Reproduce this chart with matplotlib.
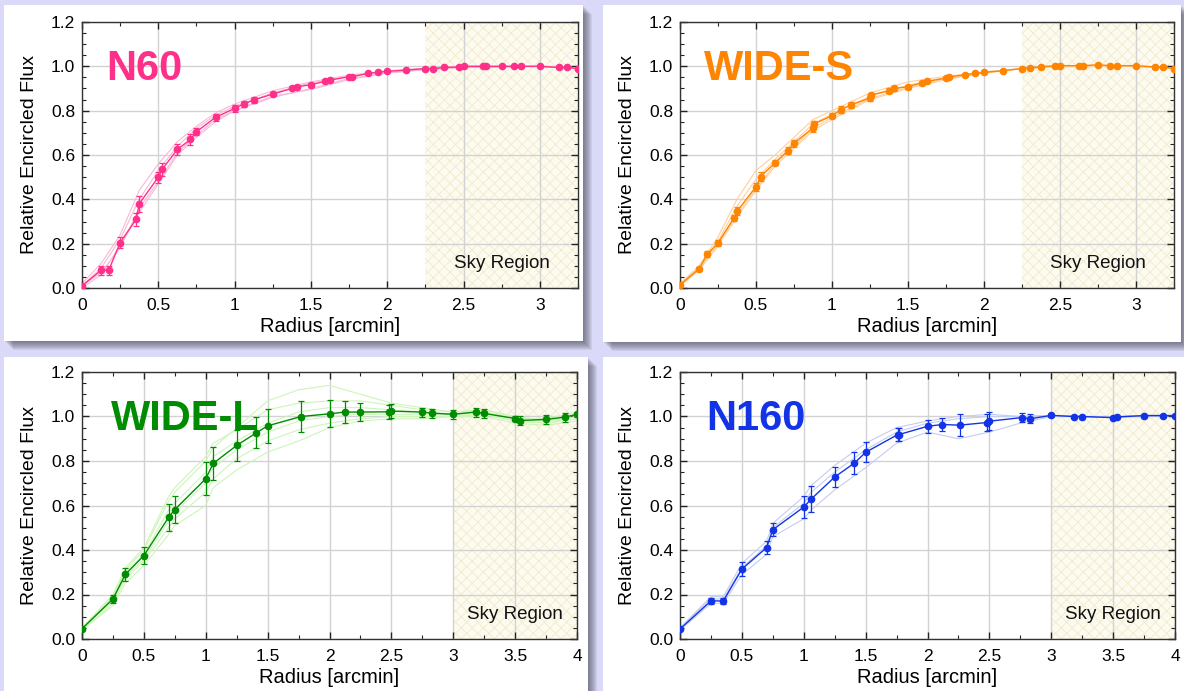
import matplotlib
matplotlib.use("Agg")
import matplotlib.pyplot as plt
from matplotlib.patches import Rectangle
from matplotlib.ticker import MultipleLocator, FormatStrFormatter, FuncFormatter

plt.rcParams["font.family"] = ["Liberation Sans", "DejaVu Sans"]
plt.rcParams["hatch.linewidth"] = 0.6

# ---- N60 ----
n60_x = [0, 0.125, 0.175, 0.25, 0.355, 0.375, 0.5, 0.525, 0.625, 0.71, 0.75, 0.875, 1.0, 1.06,
         1.125, 1.25, 1.375, 1.41, 1.5, 1.59, 1.625, 1.75, 1.77, 1.875, 1.94, 2.0, 2.125, 2.25,
         2.3, 2.375, 2.47, 2.5, 2.625, 2.65, 2.75, 2.83, 2.875, 3.0, 3.125, 3.18, 3.25]
n60_y = [0.01, 0.08, 0.08, 0.205, 0.31, 0.38, 0.50, 0.535, 0.625, 0.67, 0.705, 0.77, 0.81, 0.83,
         0.848, 0.875, 0.90, 0.908, 0.917, 0.932, 0.938, 0.953, 0.953, 0.968, 0.973, 0.977, 0.983, 0.99,
         0.99, 0.995, 0.997, 1.0, 1.0, 1.0, 1.0, 1.0, 1.0, 1.0, 0.995, 0.995, 0.99]
n60_err = [0.005, 0.02, 0.02, 0.025, 0.03, 0.035, 0.025, 0.03, 0.025, 0.025, 0.015, 0.015, 0.015, 0.012,
           0.012, 0.01, 0.008, 0.008, 0.008, 0.006, 0.006, 0.005, 0.005, 0.004, 0.004, 0.004, 0.004, 0.003,
           0.003, 0.003, 0.003, 0.003, 0.003, 0.003, 0.003, 0.003, 0.003, 0.003, 0.003, 0.003, 0.003]

# ---- WIDE-S ----
ws_x = [0, 0.125, 0.18, 0.25, 0.355, 0.375, 0.5, 0.53, 0.625, 0.71, 0.75, 0.875, 0.88, 1.0, 1.06,
        1.125, 1.25, 1.255, 1.375, 1.41, 1.5, 1.59, 1.625, 1.75, 1.77, 1.875, 1.94, 2.0, 2.125, 2.25,
        2.3, 2.375, 2.47, 2.5, 2.625, 2.65, 2.75, 2.83, 2.875, 3.0, 3.125, 3.18, 3.25]
ws_y = [0.014, 0.086, 0.153, 0.203, 0.316, 0.346, 0.457, 0.502, 0.565, 0.62, 0.653, 0.722, 0.74, 0.777, 0.805,
        0.826, 0.857, 0.871, 0.89, 0.90, 0.908, 0.926, 0.932, 0.947, 0.952, 0.962, 0.968, 0.973, 0.98, 0.99,
        0.993, 0.998, 1.003, 1.003, 1.003, 1.003, 1.007, 1.003, 1.003, 1.003, 0.997, 0.996, 0.99]
ws_err = [0.004, 0.008, 0.012, 0.015, 0.015, 0.018, 0.018, 0.02, 0.012, 0.015, 0.015, 0.018, 0.015, 0.012, 0.015,
          0.012, 0.012, 0.01, 0.012, 0.012, 0.01, 0.008, 0.008, 0.006, 0.006, 0.005, 0.005, 0.004, 0.004, 0.003,
          0.003, 0.003, 0.003, 0.003, 0.003, 0.003, 0.003, 0.003, 0.003, 0.003, 0.003, 0.003, 0.003]

# individual-galaxy curves for the top row (thin light lines)
top_gx = [0, 0.125, 0.25, 0.375, 0.5, 0.625, 0.75, 0.875, 1.0, 1.25, 1.5, 1.75, 2.0, 2.25, 2.5, 3.0, 3.25]
n60_g1 = [0.02, 0.11, 0.24, 0.44, 0.56, 0.66, 0.73, 0.79, 0.83, 0.89, 0.93, 0.96, 0.98, 0.99, 1.0, 1.0, 0.99]
n60_g2 = [0.00, 0.06, 0.19, 0.34, 0.47, 0.60, 0.68, 0.75, 0.80, 0.86, 0.90, 0.945, 0.97, 0.985, 0.995, 1.0, 0.99]
n60_g3 = [0.01, 0.09, 0.22, 0.40, 0.53, 0.64, 0.72, 0.78, 0.82, 0.88, 0.925, 0.955, 0.98, 0.99, 1.0, 1.0, 0.99]
n60_g4 = [0.01, 0.07, 0.18, 0.36, 0.48, 0.61, 0.69, 0.76, 0.80, 0.865, 0.895, 0.94, 0.97, 0.985, 0.995, 1.0, 0.99]
ws_g1 = [0.02, 0.10, 0.23, 0.40, 0.53, 0.60, 0.68, 0.76, 0.80, 0.88, 0.93, 0.955, 0.975, 0.99, 1.0, 1.0, 0.99]
ws_g2 = [0.01, 0.08, 0.19, 0.32, 0.44, 0.55, 0.63, 0.71, 0.76, 0.85, 0.90, 0.94, 0.97, 0.99, 1.0, 1.0, 0.99]
ws_g3 = [0.02, 0.09, 0.21, 0.37, 0.49, 0.58, 0.66, 0.74, 0.785, 0.865, 0.915, 0.95, 0.975, 0.99, 1.0, 1.0, 0.99]
ws_g4 = [0.01, 0.085, 0.20, 0.33, 0.45, 0.56, 0.64, 0.72, 0.77, 0.855, 0.905, 0.945, 0.97, 0.99, 1.0, 1.0, 0.99]

# ---- WIDE-L ----
wl_x = [0, 0.25, 0.35, 0.5, 0.7, 0.75, 1.0, 1.06, 1.25, 1.41, 1.5, 1.77, 2.0, 2.125, 2.25, 2.48, 2.5,
        2.75, 2.83, 3.0, 3.18, 3.25, 3.5, 3.54, 3.75, 3.9, 4.0]
wl_y = [0.046, 0.18, 0.29, 0.375, 0.547, 0.582, 0.72, 0.789, 0.87, 0.927, 0.958, 1.0, 1.012, 1.02, 1.02, 1.021, 1.024,
        1.02, 1.015, 1.01, 1.02, 1.014, 0.991, 0.982, 0.987, 0.997, 1.01]
wl_err = [0.005, 0.02, 0.03, 0.04, 0.06, 0.06, 0.075, 0.075, 0.07, 0.07, 0.075, 0.07, 0.06, 0.05, 0.04, 0.03, 0.03,
          0.02, 0.02, 0.02, 0.02, 0.02, 0.01, 0.02, 0.02, 0.02, 0.01]

# ---- N160 ----
nb_x = [0, 0.25, 0.35, 0.5, 0.7, 0.75, 1.0, 1.06, 1.25, 1.41, 1.5, 1.76, 1.77, 2.0, 2.12, 2.26, 2.48, 2.5,
        2.76, 2.83, 3.0, 3.18, 3.25, 3.5, 3.53, 3.75, 3.9, 4.0]
nb_y = [0.045, 0.171, 0.171, 0.314, 0.411, 0.491, 0.593, 0.629, 0.728, 0.791, 0.839, 0.919, 0.919, 0.956, 0.964,
        0.961, 0.973, 0.979, 0.995, 0.99, 1.005, 1.0, 1.0, 0.995, 0.998, 1.004, 1.004, 1.004]
nb_err = [0.004, 0.015, 0.015, 0.03, 0.03, 0.03, 0.05, 0.06, 0.045, 0.05, 0.045, 0.03, 0.03, 0.03, 0.03,
          0.05, 0.04, 0.04, 0.02, 0.02, 0.005, 0.004, 0.004, 0.004, 0.004, 0.004, 0.004, 0.004]

# individual-galaxy curves for the bottom row
bot_gx = [0, 0.25, 0.35, 0.5, 0.7, 0.75, 1.0, 1.06, 1.25, 1.5, 1.75, 2.0, 2.25, 2.5, 2.75, 3.0, 3.25, 3.5, 3.75, 4.0]
wl_g1 = [0.05, 0.19, 0.31, 0.40, 0.62, 0.66, 0.80, 0.86, 0.95, 1.07, 1.12, 1.14, 1.10, 1.06, 1.04, 1.02, 1.03, 1.00, 0.98, 1.00]
wl_g2 = [0.05, 0.20, 0.32, 0.41, 0.64, 0.68, 0.82, 0.88, 0.94, 1.03, 1.06, 1.07, 1.07, 1.05, 1.03, 1.02, 1.03, 0.99, 0.99, 1.02]
wl_g3 = [0.04, 0.16, 0.27, 0.35, 0.50, 0.54, 0.66, 0.72, 0.81, 0.89, 0.94, 0.97, 0.99, 1.00, 1.00, 1.00, 1.01, 0.98, 0.97, 0.99]
wl_g4 = [0.04, 0.15, 0.25, 0.33, 0.47, 0.51, 0.60, 0.68, 0.76, 0.84, 0.89, 0.95, 0.98, 0.99, 0.99, 1.00, 1.00, 0.97, 0.96, 0.98]
wl_g5 = [0.05, 0.18, 0.30, 0.38, 0.58, 0.61, 0.75, 0.82, 0.89, 0.97, 1.02, 1.04, 1.04, 1.03, 1.02, 1.01, 1.02, 0.99, 0.98, 1.01]
wl_g6 = [0.05, 0.17, 0.28, 0.36, 0.53, 0.57, 0.70, 0.77, 0.85, 0.93, 0.98, 1.00, 1.01, 1.01, 1.01, 1.01, 1.01, 0.98, 0.97, 1.00]
nb_g1 = [0.05, 0.19, 0.19, 0.34, 0.44, 0.52, 0.64, 0.69, 0.78, 0.88, 0.95, 0.98, 1.00, 1.01, 1.00, 1.005, 1.0, 1.0, 1.005, 1.005]
nb_g2 = [0.04, 0.16, 0.16, 0.29, 0.38, 0.46, 0.54, 0.58, 0.67, 0.77, 0.88, 0.93, 0.90, 0.93, 0.97, 1.00, 1.0, 0.995, 1.0, 1.005]
nb_g3 = [0.05, 0.18, 0.18, 0.32, 0.42, 0.50, 0.61, 0.66, 0.75, 0.85, 0.93, 0.97, 0.99, 1.00, 1.0, 1.005, 1.0, 0.995, 1.005, 1.005]

W, H = 1184, 691
fig = plt.figure(figsize=(W / 100, H / 100), dpi=100, facecolor="#dadaf8")


def px(x0, y0, x1, y1):
    # pixel box (top-left origin) -> figure fraction rect
    return [x0 / W, 1 - y1 / H, (x1 - x0) / W, (y1 - y0) / H]


# white panels with a soft drop shadow
panels = [(4, 5, 583, 341), (603, 5, 1181, 342), (4, 357, 588, 700), (603, 357, 1190, 700)]
for x0, y0, x1, y1 in panels:
    for k in range(9, 0, -1):
        fig.patches.append(Rectangle(((x0 + k) / W, 1 - (y1 + k) / H), (x1 - x0) / W, (y1 - y0) / H,
                                     transform=fig.transFigure, facecolor="#404050", alpha=0.09,
                                     edgecolor="none", zorder=0))
    fig.patches.append(Rectangle((x0 / W, 1 - y1 / H), (x1 - x0) / W, (y1 - y0) / H,
                                 transform=fig.transFigure, facecolor="white", edgecolor="none", zorder=1))

panel_specs = [
    dict(rect=px(82, 22, 578, 288), xmax=3.25, sky=2.25, name="N60", lx=0.16,
         col="#ff3089", light="#f7b9d6", x=n60_x, y=n60_y, e=n60_err,
         gx=top_gx, gal=[n60_g1, n60_g2, n60_g3, n60_g4]),
    dict(rect=px(680, 22, 1174, 288), xmax=3.25, sky=2.25, name="WIDE-S", lx=0.16,
         col="#ff8400", light="#ffcf9c", x=ws_x, y=ws_y, e=ws_err,
         gx=top_gx, gal=[ws_g1, ws_g2, ws_g3, ws_g4]),
    dict(rect=px(82, 372, 577, 639), xmax=4, sky=3, name="WIDE-L", lx=0.23,
         col="#008c00", light="#cdf5b9", x=wl_x, y=wl_y, e=wl_err,
         gx=bot_gx, gal=[wl_g1, wl_g2, wl_g3, wl_g4, wl_g5, wl_g6]),
    dict(rect=px(680, 372, 1175, 639), xmax=4, sky=3, name="N160", lx=0.21,
         col="#1234e6", light="#c5ccf2", x=nb_x, y=nb_y, e=nb_err,
         gx=bot_gx, gal=[nb_g1, nb_g2, nb_g3]),
]

for p in panel_specs:
    ax = fig.add_axes(p["rect"])
    ax.set_zorder(2)
    ax.set_facecolor("white")
    ax.set_xlim(0, p["xmax"])
    ax.set_ylim(0, 1.2)
    ax.axvspan(p["sky"], p["xmax"], facecolor="#fdfbef", edgecolor="#f0eacd", hatch="xxx",
               linewidth=0, zorder=0)
    ax.grid(True, color="#d2d2d2", linewidth=1, zorder=0.5)
    ax.set_axisbelow(True)

    for g in p["gal"]:
        ax.plot(p["gx"], g, color=p["light"], linewidth=0.8, zorder=2)
    ax.errorbar(p["x"], p["y"], yerr=p["e"], color=p["col"], marker="o", markersize=4.5,
                linewidth=1.0, elinewidth=0.9, capsize=2.5, capthick=0.9, zorder=3)

    ax.text(p["lx"], 0.94, p["name"], color=p["col"], fontsize=30, fontweight="bold",
            va="baseline", ha="left", zorder=4)
    ax.text((p["sky"] + p["xmax"]) / 2, 0.11, "Sky Region", fontsize=13.5, ha="center",
            va="center", color="#111111", zorder=4)

    ax.xaxis.set_major_locator(MultipleLocator(0.5))
    ax.xaxis.set_minor_locator(MultipleLocator(0.25))
    ax.yaxis.set_major_locator(MultipleLocator(0.2))
    ax.yaxis.set_minor_locator(MultipleLocator(0.05))
    ax.xaxis.set_major_formatter(FuncFormatter(lambda v, pos: f"{v:g}"))
    ax.yaxis.set_major_formatter(FormatStrFormatter("%.1f"))
    ax.tick_params(which="both", direction="in", top=True, right=True, colors="#222222",
                   labelsize=12.5, labelcolor="black")
    ax.tick_params(which="major", length=5, width=1)
    ax.tick_params(axis="x", which="major", pad=7)
    ax.tick_params(axis="y", which="major", pad=5)
    ax.tick_params(which="minor", length=3, width=0.8)
    for s in ax.spines.values():
        s.set_color("#333333")
        s.set_linewidth(1)
    ax.set_xlabel("Radius [arcmin]", fontsize=14.5, labelpad=3)
    ax.set_ylabel("Relative Encircled Flux", fontsize=14, labelpad=9)

fig.savefig("out.png", dpi=100, facecolor=fig.get_facecolor())
